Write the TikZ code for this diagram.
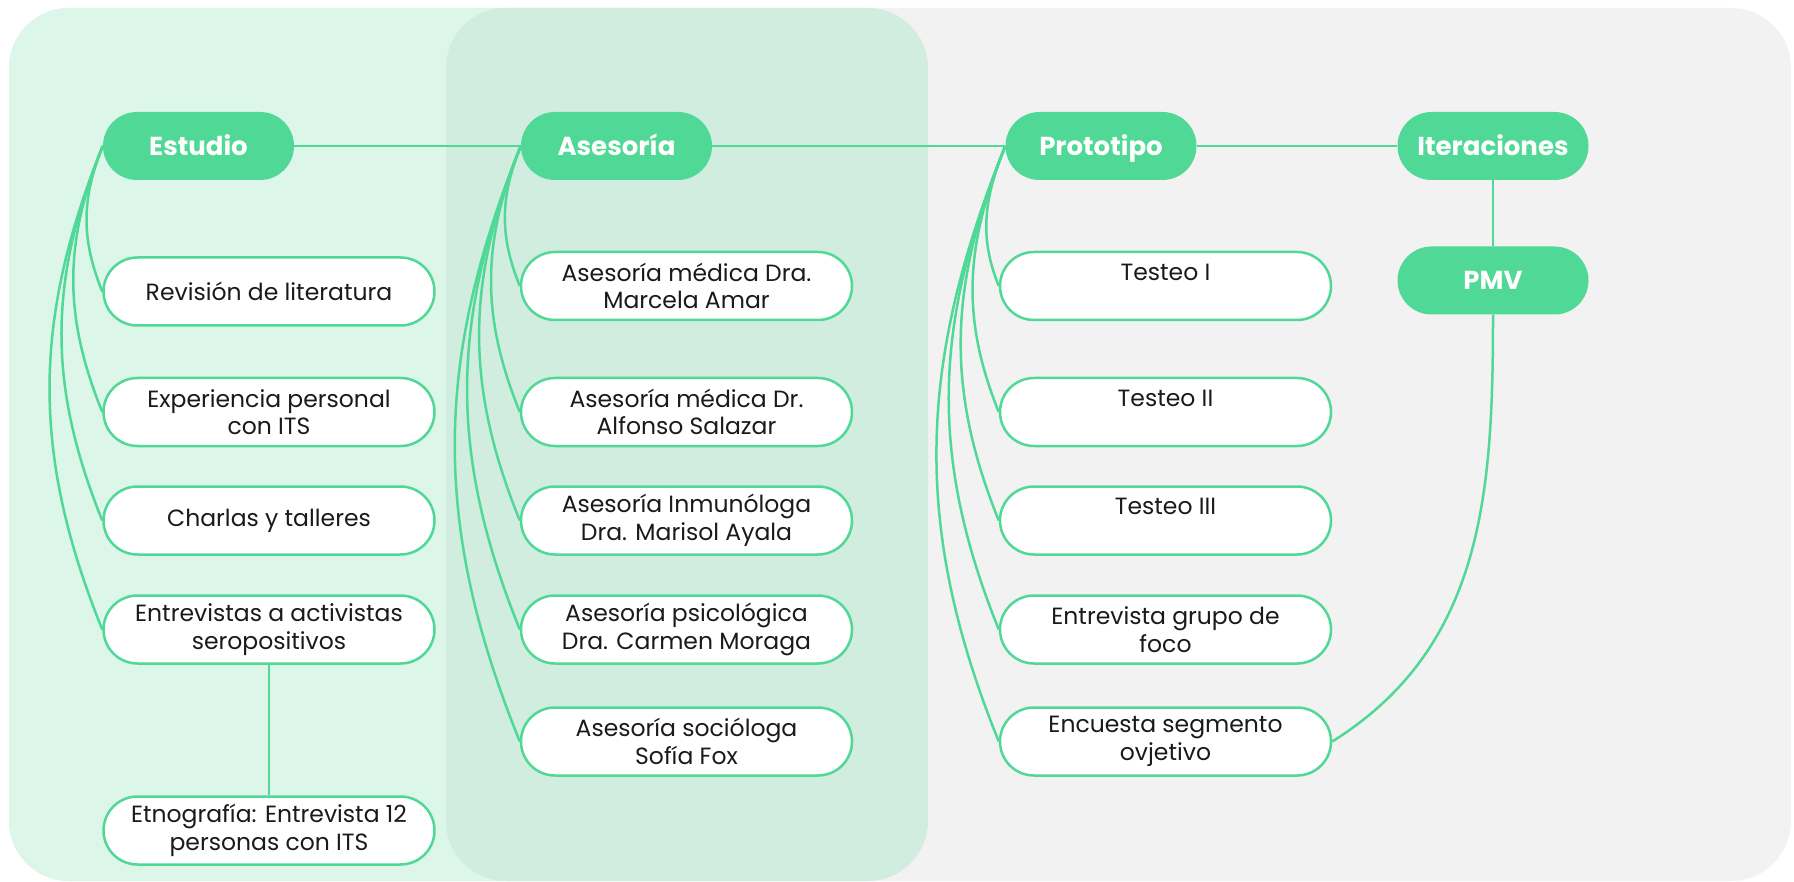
\documentclass[tikz,border=0pt]{standalone}
\usepackage{fontspec}
\setmainfont{Poppins}
\definecolor{lgreen}{HTML}{50D896}
\definecolor{mint}{HTML}{DCF6EA}
\definecolor{midmint}{HTML}{D0EDDF}
\definecolor{greybg}{HTML}{F2F2F2}
\definecolor{txt}{HTML}{1A1A1A}
\tikzset{
  mainbox/.style={fill=lgreen, draw=none, rounded corners=34pt, minimum height=68pt,
    minimum width=191pt, inner sep=0pt, text=white, text height=22pt, text depth=3pt,
    font=\bfseries\fontsize{26}{30}\selectfont},
  subbox/.style={fill=white, draw=lgreen, line width=2.5pt, rounded corners=34pt,
    minimum height=68pt, minimum width=331pt, inner sep=0pt, align=center, text=txt,
    font=\fontsize{23.5}{27.5}\selectfont},
  conn/.style={draw=lgreen, line width=2.5pt},
}
\begin{document}
\begin{tikzpicture}[x=1pt,y=1pt]
\useasboundingbox (0,0) rectangle (1794,-882);
% panels
\fill[greybg, rounded corners=60pt] (9,-8) rectangle (1791,-881);
\fill[mint, rounded corners=60pt] (9,-8) rectangle (700,-881);
\fill[midmint, rounded corners=60pt] (446,-8) rectangle (928,-881);
% main nodes
\node[mainbox] (est) at (198.5,-146) {Estudio};
\node[mainbox] (ase) at (616.5,-146) {Asesoría};
\node[mainbox] (pro) at (1101,-146) {Prototipo};
\node[mainbox] (ite) at (1493,-146) {Iteraciones};
\node[mainbox] (pmv) at (1493,-280.5) {PMV};
% left column
\node[subbox] (rev) at (269,-291.5) {Revisión de literatura};
\node[subbox] (exp) at (269,-412) {Experiencia personal\\con ITS};
\node[subbox] (cha) at (269,-520.5) {Charlas y talleres};
\node[subbox] (ent) at (269,-629.5) {Entrevistas a activistas\\seropositivos};
\node[subbox] (etn) at (269,-830.5) {Etnografía: Entrevista 12\\personas con ITS};
% middle column
\node[subbox] (a1) at (686.5,-286) {Asesoría médica Dra.\\Marcela Amar};
\node[subbox] (a2) at (686.5,-412) {Asesoría médica Dr.\\Alfonso Salazar};
\node[subbox] (a3) at (686.5,-520.5) {Asesoría Inmunóloga\\Dra. Marisol Ayala};
\node[subbox] (a4) at (686.5,-629.5) {Asesoría psicológica\\Dra. Carmen Moraga};
\node[subbox] (a5) at (686.5,-741.5) {Asesoría socióloga\\Sofía Fox};
% right column
\node[subbox] (t1) at (1165.5,-286) {Testeo I\\~};
\node[subbox] (t2) at (1165.5,-412) {Testeo II\\~};
\node[subbox] (t3) at (1165.5,-520.5) {Testeo III\\~};
\node[subbox] (t4) at (1165.5,-629.5) {Entrevista grupo de\\foco};
\node[subbox] (t5) at (1165.5,-741.5) {Encuesta segmento\\ovjetivo};
% connectors
\draw[conn] (est.east) -- (ase.west);
\draw[conn] (ase.east) -- (pro.west);
\draw[conn] (pro.east) -- (ite.west);
\draw[conn] (ite.south) -- (pmv.north);
\draw[conn] (ent.south) -- (etn.north);
\foreach \c in {rev,exp,cha,ent}{
  \draw[conn] (est.west) to[out=248,in=112] (\c.west);
}
\foreach \c in {a1,a2,a3,a4,a5}{
  \draw[conn] (ase.west) to[out=248,in=112] (\c.west);
}
\foreach \c in {t1,t2,t3,t4,t5}{
  \draw[conn] (pro.west) to[out=248,in=112] (\c.west);
}
\draw[conn] (pmv.south) to[out=-90,in=32] (t5.east);
\end{tikzpicture}
\end{document}
